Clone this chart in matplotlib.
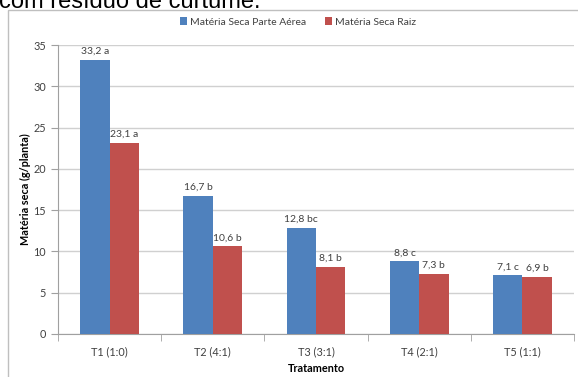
import matplotlib
matplotlib.use('Agg')
import matplotlib.pyplot as plt
from matplotlib.patches import Rectangle
import numpy as np

# Treatment groups and dry matter (g/plant)
tratamentos = ['T1 (1:0)', 'T2 (4:1)', 'T3 (3:1)', 'T4 (2:1)', 'T5 (1:1)']
parte_aerea = [33.2, 16.7, 12.8, 8.8, 7.1]
raiz = [23.1, 10.6, 8.1, 7.3, 6.9]
letras_aerea = ['a', 'b', 'bc', 'c', 'c']
letras_raiz = ['a', 'b', 'b', 'b', 'b']

plt.rcParams['font.family'] = ['Lato', 'DejaVu Sans']

fig = plt.figure(figsize=(5.78, 3.77), dpi=100)
ax = fig.add_axes([58 / 578, 43 / 377, 516 / 578, 289 / 377])

# Chart frame around the plot
fig.patches.append(Rectangle((8 / 578, -0.1), 1.2, 0.1 + (377 - 10) / 377,
                             transform=fig.transFigure, fill=False,
                             edgecolor='#BFBFBF', lw=1.0))

# Caption line cut off at the top
fig.text(-0.002, (377 - 8) / 377, 'com resíduo de curtume.', family='Liberation Sans',
         fontsize=17, color='black', va='baseline', ha='left')

x = np.arange(len(tratamentos))
w = 0.285
b1 = ax.bar(x - w / 2, parte_aerea, w, color='#4F81BD', label='Matéria Seca Parte Aérea', zorder=3)
b2 = ax.bar(x + w / 2, raiz, w, color='#C0504D', label='Matéria Seca Raiz', zorder=3)

def fmt(v, l):
    return f'{v:.1f}'.replace('.', ',') + ' ' + l

for rect, v, l in zip(b1, parte_aerea, letras_aerea):
    ax.text(rect.get_x() + rect.get_width() / 2, v + 0.5, fmt(v, l),
            ha='center', va='bottom', fontsize=7.5, color='#404040')
for rect, v, l in zip(b2, raiz, letras_raiz):
    ax.text(rect.get_x() + rect.get_width() / 2, v + 0.5, fmt(v, l),
            ha='center', va='bottom', fontsize=7.5, color='#404040')

ax.set_xlim(-0.5, len(tratamentos) - 0.5)
ax.set_ylim(0, 35)
ax.set_yticks(range(0, 36, 5))
ax.set_xticks(x)
ax.set_xticklabels(tratamentos)
ax.set_xticks(np.arange(-0.5, len(tratamentos)), minor=True)
ax.tick_params(axis='x', which='major', length=0, pad=9, labelsize=7.8, labelcolor='#404040')
ax.tick_params(axis='x', which='minor', length=5, color='#A0A0A0', direction='out')
ax.tick_params(axis='y', length=5, color='#A0A0A0', pad=3.5, labelsize=7.8, labelcolor='#404040')

ax.grid(axis='y', color='#D0D0D0', lw=1.0, zorder=0)
for s in ['top', 'right']:
    ax.spines[s].set_visible(False)
ax.spines['left'].set_color('#A0A0A0')
ax.spines['bottom'].set_color('#A0A0A0')

ax.set_ylabel('Matéria seca (g/planta)', fontsize=7.8, fontweight='bold', labelpad=2)
ax.set_xlabel('Tratamento', fontsize=7.8, fontweight='bold', labelpad=4)

fig.legend(loc='center', bbox_to_anchor=(298 / 578, 1 - 22 / 377), ncol=2, frameon=False,
           fontsize=7.5, handlelength=0.7, handleheight=0.7, handletextpad=0.3,
           columnspacing=1.8, labelcolor='#404040')

fig.savefig('out.png', dpi=100)
